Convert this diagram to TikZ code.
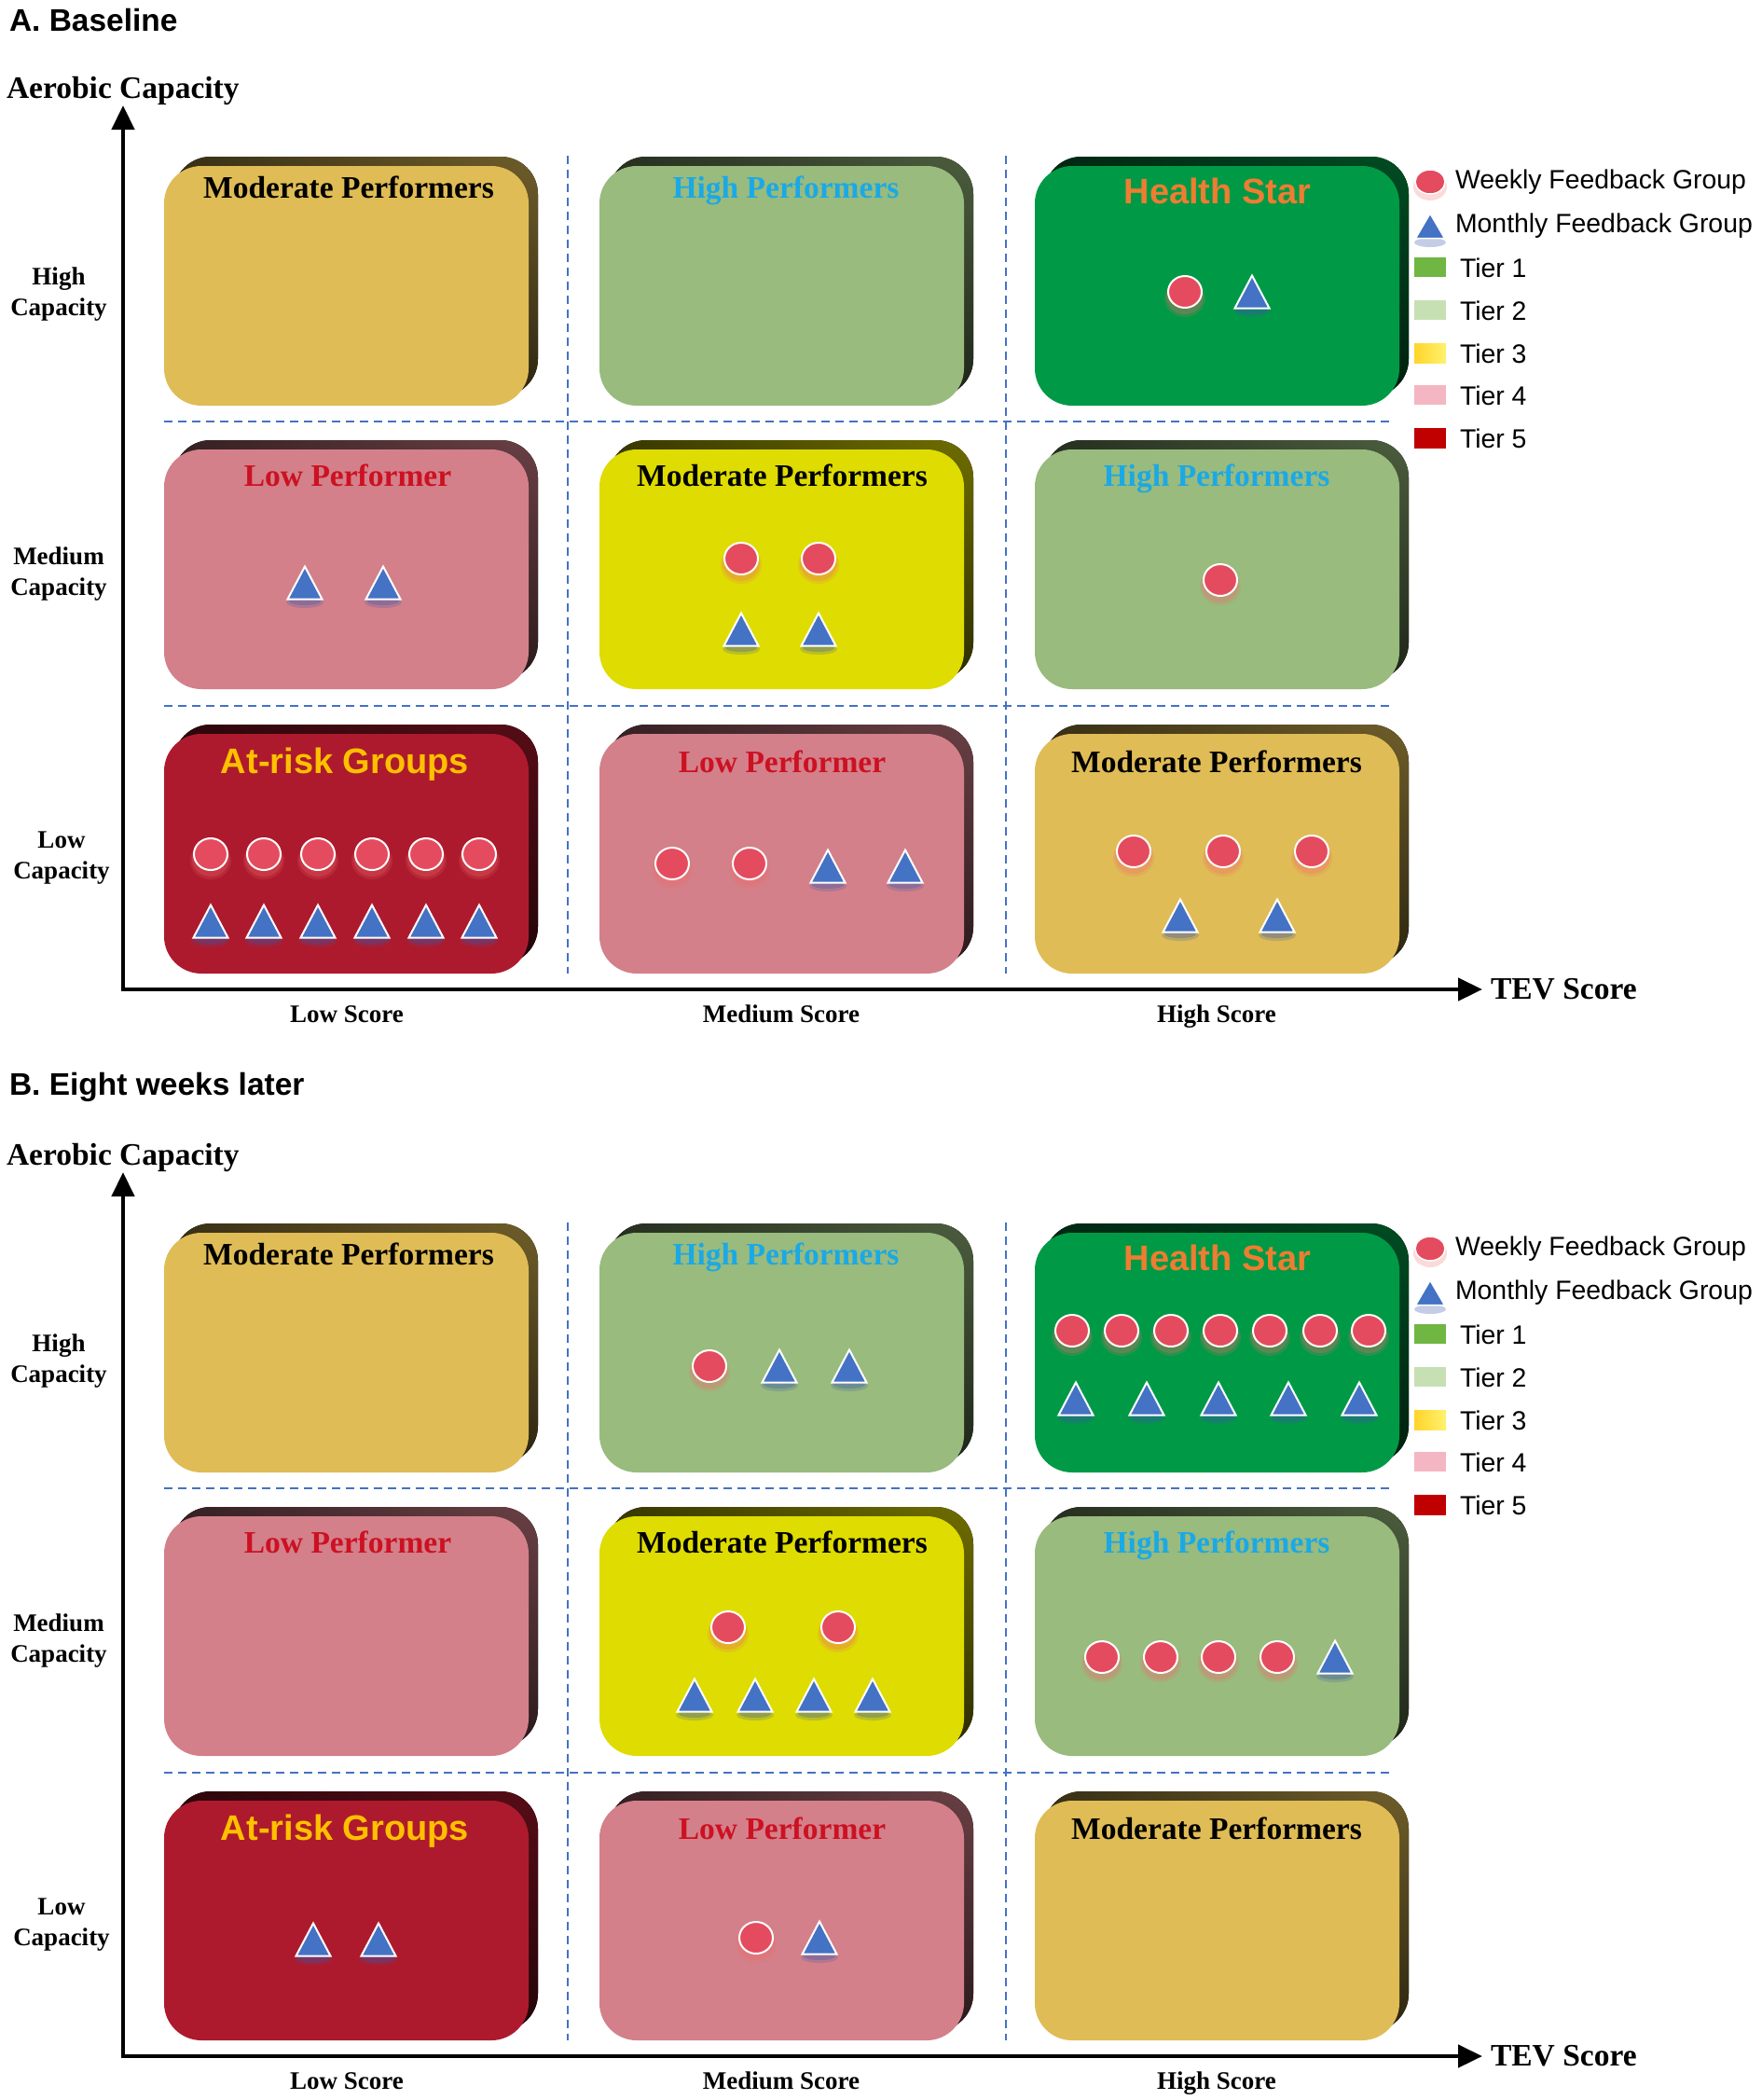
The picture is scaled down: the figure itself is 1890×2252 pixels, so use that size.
\documentclass[tikz,border=0pt]{standalone}
\usepackage{fontspec}
\setmainfont{Liberation Serif}
\newfontfamily\arialf{Liberation Sans}
\usetikzlibrary{arrows.meta,shadings}
\definecolor{cGold}{HTML}{DFBC55}
\definecolor{cLgreen}{HTML}{99BB7D}
\definecolor{cDgreen}{HTML}{009A46}
\definecolor{cPink}{HTML}{D3808A}
\definecolor{cYellow}{HTML}{DEDC00}
\definecolor{cDred}{HTML}{AE1A2D}
\definecolor{tBlue}{HTML}{1BA9E6}
\definecolor{tRed}{HTML}{CC1122}
\definecolor{tOrange}{HTML}{ED7D31}
\definecolor{tAmber}{HTML}{FFC000}
\definecolor{shRed}{HTML}{E44B5E}
\definecolor{shBlue}{HTML}{4472C4}
\definecolor{glowR}{HTML}{F06A6A}
\definecolor{glowB}{HTML}{3A58A8}
\definecolor{dashBlue}{HTML}{4472C4}
\definecolor{tierA}{HTML}{70B643}
\definecolor{tierB}{HTML}{C6E0B4}
\definecolor{tierCa}{HTML}{FFD42A}
\definecolor{tierCb}{HTML}{FFF26E}
\definecolor{tierD}{HTML}{F4B6C2}
\definecolor{tierE}{HTML}{C00000}
\newcommand\fT{\fontsize{33.5}{40}\selectfont\bfseries}
\newcommand\fAr{\arialf\fontsize{38}{45}\selectfont\bfseries}
\newcommand\fS{\fontsize{27}{33}\selectfont\bfseries}
\newcommand\fLg{\arialf\fontsize{28.4}{34}\selectfont}
\newcommand\fHd{\arialf\fontsize{33.5}{40}\selectfont\bfseries}
\tikzset{
  every node/.style={inner sep=0pt, outer sep=0pt},
  dsh/.style={draw=dashBlue, line width=1.6pt, dash pattern=on 9pt off 6pt},
  axisline/.style={line width=4.5pt, line join=miter,
    {Triangle[width=24pt,length=26pt]}-{Triangle[width=24pt,length=26pt]}},
  ttl/.style={anchor=base, font=\fT},
  attl/.style={anchor=base, font=\fAr},
  lbl/.style={font=\fS, align=center},
  lgtxt/.style={anchor=west, font=\fLg},
  wk/.pic={
    \fill[glowR, opacity=0.18] (0,7) ellipse [x radius=22pt, y radius=20pt];
    \fill[glowR, opacity=0.25] (0,5) ellipse [x radius=20pt, y radius=19pt];
    \fill[shRed, draw=white, line width=2pt] (0,0) ellipse [x radius=18pt, y radius=17pt];
  },
  mo/.pic={
    \fill[glowB, opacity=0.22] (0,21) ellipse [x radius=20pt, y radius=6pt];
    \fill[glowB, opacity=0.3] (0,20) ellipse [x radius=17pt, y radius=4pt];
    \fill[shBlue, draw=white, line width=2pt, line join=miter] (0,-17.5) -- (18.5,17.5) -- (-18.5,17.5) -- cycle;
  },
  lgwk/.pic={
    \fill[glowR, opacity=0.25] (0,5) ellipse [x radius=18pt, y radius=15pt];
    \fill[shRed, draw=white, line width=1.5pt] (0,0) ellipse [x radius=16pt, y radius=13pt];
  },
  lgmo/.pic={
    \fill[glowB, opacity=0.3] (0,18) ellipse [x radius=17pt, y radius=5pt];
    \fill[shBlue, draw=white, line width=1.5pt, line join=miter] (0,-13) -- (15.5,13.5) -- (-15.5,13.5) -- cycle;
  },
}
% #1 left, #2 top, #3 colour
\newcommand\pbox[3]{%
  \fill[rounded corners=40pt, upper left=black!75!#3, upper right=black!50!#3,
        lower left=black!80!#3, lower right=black!80!#3] (#1+10,#2-10) rectangle ++(391,257);
  \fill[#3, rounded corners=40pt] (#1,#2) rectangle ++(391,257);
}
% #1 prefix, #2 panel title
\newcommand\panelbase[2]{%
  \node[anchor=west, font=\fHd] (#1title) at (10,22) {#2};
  \node[anchor=base west, font=\fT] (#1ylab) at (7,105) {Aerobic Capacity};
  \pbox{176}{178}{cGold}
  \pbox{643}{178}{cLgreen}
  \pbox{1110}{178}{cDgreen}
  \pbox{176}{482}{cPink}
  \pbox{643}{482}{cYellow}
  \pbox{1110}{482}{cLgreen}
  \pbox{176}{787}{cDred}
  \pbox{643}{787}{cPink}
  \pbox{1110}{787}{cGold}
  \node[ttl, text=black] (#1t11) at (374,212) {Moderate Performers};
  \node[ttl, text=tBlue] (#1t21) at (843,212) {High Performers};
  \node[attl, text=tOrange] (#1t31) at (1306,218) {Health Star};
  \node[ttl, text=tRed] (#1t12) at (373,521) {Low Performer};
  \node[ttl, text=black] (#1t22) at (839,521) {Moderate Performers};
  \node[ttl, text=tBlue] (#1t32) at (1305,521) {High Performers};
  \node[attl, text=tAmber] (#1t13) at (370,829) {At-risk Groups};
  \node[ttl, text=tRed] (#1t23) at (839,828) {Low Performer};
  \node[ttl, text=black] (#1t33) at (1305,828) {Moderate Performers};
  \coordinate (#1v1a) at (609,167); \coordinate (#1v1b) at (609,1044);
  \coordinate (#1v2a) at (1079,167); \coordinate (#1v2b) at (1079,1044);
  \coordinate (#1h1a) at (176,452); \coordinate (#1h1b) at (1495,452);
  \coordinate (#1h2a) at (176,757); \coordinate (#1h2b) at (1495,757);
  \draw[dsh] (#1v1a) -- (#1v1b);
  \draw[dsh] (#1v2a) -- (#1v2b);
  \draw[dsh] (#1h1a) -- (#1h1b);
  \draw[dsh] (#1h2a) -- (#1h2b);
  \coordinate (#1o) at (132,1061);
  \coordinate (#1yt) at (132,113);
  \coordinate (#1xt) at (1590,1061);
  \draw[axisline] (#1yt) -- (#1o) -- (#1xt);
  \node[anchor=west, font=\fT] (#1xlab) at (1599,1061) {TEV Score};
  \node[lbl, anchor=base] (#1s1) at (372,1096) {Low Score};
  \node[lbl, anchor=base] (#1s2) at (838,1096) {Medium Score};
  \node[lbl, anchor=base] (#1s3) at (1305,1096) {High Score};
  \node[lbl] (#1c1) at (63,316) {High\\Capacity};
  \node[lbl] (#1c2) at (63,616) {Medium\\Capacity};
  \node[lbl] (#1c3) at (66,920) {Low\\Capacity};
  \pic at (1534,195) {lgwk};
  \node[lgtxt] (#1lw) at (1561,195) {Weekly Feedback Group};
  \pic at (1534,242) {lgmo};
  \node[lgtxt] (#1lm) at (1561,242) {Monthly Feedback Group};
  \fill[tierA] (1517,276) rectangle (1551,297);
  \node[lgtxt] (#1l1) at (1566,287) {Tier 1};
  \fill[tierB] (1517,322) rectangle (1551,343);
  \node[lgtxt] (#1l2) at (1566,333) {Tier 2};
  \fill[left color=tierCa, right color=tierCb] (1517,368) rectangle (1551,389);
  \node[lgtxt] (#1l3) at (1566,379) {Tier 3};
  \fill[tierD] (1517,413) rectangle (1551,434);
  \node[lgtxt] (#1l4) at (1566,424) {Tier 4};
  \fill[tierE] (1517,459) rectangle (1551,481);
  \node[lgtxt] (#1l5) at (1566,470) {Tier 5};
}
\begin{document}
\begin{tikzpicture}[x=1pt,y=-1pt]
\useasboundingbox (0,0) rectangle (1890,2252);
% ---------------- Panel A
\panelbase{A}{A. Baseline}
\pic at (1271,313) {wk}; \pic at (1343,313) {mo};
\pic at (327,625) {mo}; \pic at (411,625) {mo};
\pic at (795,599) {wk}; \pic at (878,599) {wk};
\pic at (795,675) {mo}; \pic at (878,675) {mo};
\pic at (1309,622) {wk};
\foreach \xx in {226,283,341,399,457,514}{\pic at (\xx,916) {wk}; \pic at (\xx,988) {mo};}
\pic at (721,926) {wk}; \pic at (804,926) {wk};
\pic at (888,929) {mo}; \pic at (971,929) {mo};
\pic at (1216,913) {wk}; \pic at (1312,913) {wk}; \pic at (1407,913) {wk};
\pic at (1266,982) {mo}; \pic at (1370,982) {mo};
% ---------------- Panel B
\begin{scope}[shift={(0,1144)}]
\panelbase{B}{B. Eight weeks later}
\pic at (761,321) {wk}; \pic at (836,321) {mo}; \pic at (911,321) {mo};
\foreach \xx in {1150,1203,1256,1309,1362,1416,1468}{\pic at (\xx,283) {wk};}
\foreach \xx in {1154,1230,1307,1382,1458}{\pic at (\xx,356) {mo};}
\pic at (781,601) {wk}; \pic at (899,601) {wk};
\foreach \xx in {745,810,873,936}{\pic at (\xx,674) {mo};}
\foreach \xx in {1182,1245,1307,1370}{\pic at (\xx,633) {wk};}
\pic at (1432,633) {mo};
\pic at (336,936) {mo}; \pic at (406,936) {mo};
\pic at (811,934) {wk}; \pic at (879,934) {mo};
\end{scope}
\end{tikzpicture}
\end{document}
